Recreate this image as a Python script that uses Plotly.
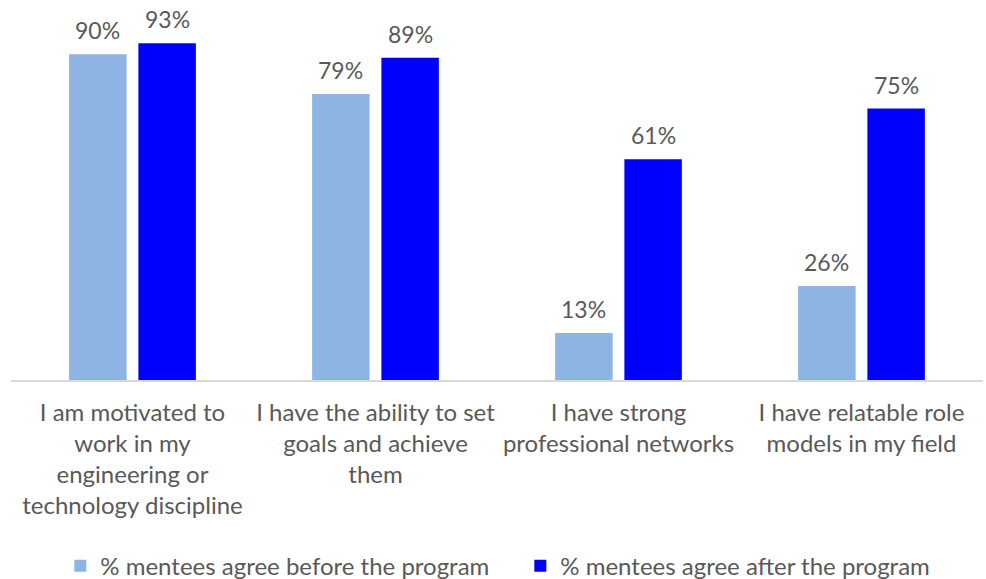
import plotly.graph_objects as go

categories = [
    "I am motivated to<br>work in my<br>engineering or<br>technology discipline",
    "I have the ability to set<br>goals and achieve<br>them",
    "I have strong<br>professional networks",
    "I have relatable role<br>models in my field",
]
before = [90, 79, 13, 26]
after = [93, 89, 61, 75]
series_names = ["% mentees agree before the program", "% mentees agree after the program"]
colors = ["#8EB4E3", "#0000FF"]

FONT = "Lato"
TXT = "#595959"
BARGAP = 0.43

fig = go.Figure()
for name, vals, col in zip(series_names, [before, after], colors):
    fig.add_trace(go.Bar(
        x=list(range(len(categories))), y=vals, name=name,
        marker=dict(color=col, line=dict(width=0)),
        cliponaxis=False,
    ))

# data labels above bars
half = (1 - BARGAP) / 4
for k, vals in enumerate([before, after]):
    off = -half if k == 0 else half
    for i, v in enumerate(vals):
        fig.add_annotation(x=i + off, y=v, text=f"{v}%", showarrow=False,
                           yanchor="bottom", yshift=8,
                           font=dict(family=FONT, size=23, color=TXT))

fig.update_layout(
    width=986, height=579,
    margin=dict(l=11, r=3, t=18, b=199, autoexpand=False),
    paper_bgcolor="white", plot_bgcolor="white",
    barmode="group", bargap=BARGAP, bargroupgap=0.17,
    font=dict(family=FONT, size=24, color=TXT),
    showlegend=True,
    legend=dict(orientation="h", x=0.524, xanchor="center", y=-0.514, yanchor="middle",
                font=dict(family=FONT, size=24, color=TXT), itemwidth=30,
                entrywidth=415, traceorder="normal"),
)
fig.update_xaxes(showline=True, linecolor="#D9D9D9", linewidth=2, ticks="",
                 tickmode="array", tickvals=list(range(len(categories))), ticktext=categories,
                 range=[-0.5, len(categories) - 0.5], ticklabelstandoff=10,
                 tickfont=dict(family=FONT, size=24, color=TXT), showgrid=False,
                 automargin=False)
fig.update_yaxes(range=[0, 100], visible=False, showgrid=False, automargin=False)

fig.write_html("out.html")
